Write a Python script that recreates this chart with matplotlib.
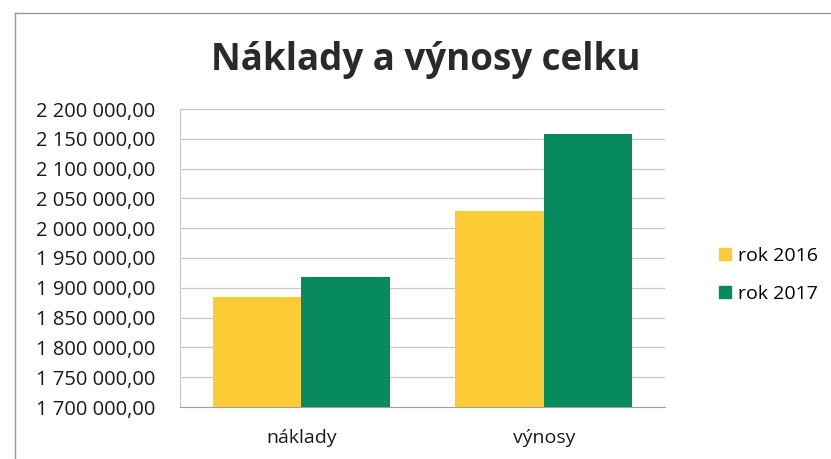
import matplotlib
matplotlib.use("Agg")
import matplotlib.pyplot as plt
import numpy as np
from matplotlib.lines import Line2D

categories = ["náklady", "výnosy"]
series_names = ["rok 2016", "rok 2017"]
values_2016 = [1884000, 2029000]
values_2017 = [1918000, 2158000]
yticks = [1700000 + 50000 * i for i in range(11)]
title = "Náklady a výnosy celku"

colors = ["#FDCB36", "#078A5E"]

def fmt(v):
    s = f"{int(v):,}".replace(",", " ")
    return s + ",00"

plt.rcParams['font.family'] = ['Open Sans', 'DejaVu Sans']

fig = plt.figure(figsize=(8.31, 4.59), dpi=100)
ax = fig.add_axes([180/831, 1 - 407/459, (665-180)/831, (407-109)/459])

x = np.arange(len(categories))
w = 0.365
ax.bar(x - w/2, values_2016, w, color=colors[0], label=series_names[0], zorder=3)
ax.bar(x + w/2, values_2017, w, color=colors[1], label=series_names[1], zorder=3)

ax.set_xlim(-0.5, 1.5)
ax.set_ylim(1700000, 2200000)
ax.set_yticks(yticks)
ax.set_yticklabels([fmt(v) for v in yticks], fontsize=14.5, color="#1a1a1a")
ax.set_xticks(x)
ax.set_xticklabels(categories, fontsize=14, color="#1a1a1a")
ax.tick_params(axis='x', length=0, pad=16)
ax.tick_params(axis='y', length=0, pad=18)
ax.grid(axis='y', color="#c8c8c8", linewidth=0.9, zorder=0)
for s in ["top", "right"]:
    ax.spines[s].set_visible(False)
ax.spines["left"].set_color("#c8c8c8")
ax.spines["bottom"].set_color("#a0a0a0")

fig.text(426/831, 1 - 60/459, title, ha="center", va="center",
         fontsize=26.5, fontweight="bold", color="#2a2a2a")

handles = [Line2D([0], [0], marker="s", linestyle="", markersize=8,
                  markerfacecolor=c, markeredgecolor=c) for c in colors]
fig.legend(handles, series_names, loc="center left",
           bbox_to_anchor=(698/831, 1 - 275/459), frameon=False,
           fontsize=14, handletextpad=0.15, labelspacing=1.0,
           handlelength=1.0)

# chart border (top and left visible)
fig.add_artist(Line2D([15/831, 1], [1 - 13/459, 1 - 13/459], transform=fig.transFigure,
                      color="#9a9a9a", linewidth=1))
fig.add_artist(Line2D([15/831, 15/831], [0, 1 - 13/459], transform=fig.transFigure,
                      color="#9a9a9a", linewidth=1))

fig.savefig("out.png", dpi=100)
